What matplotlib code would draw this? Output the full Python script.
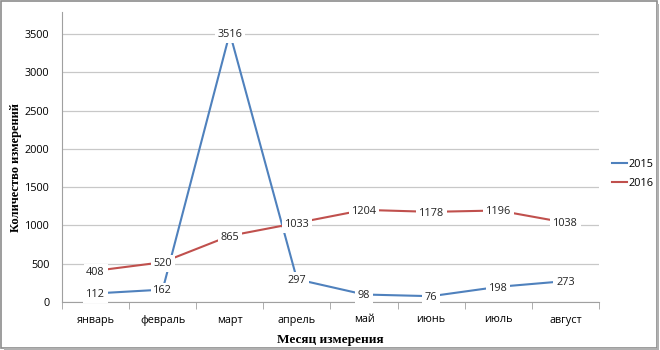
import matplotlib
matplotlib.use("Agg")
import matplotlib.pyplot as plt
import numpy as np
from matplotlib.patches import Rectangle

months = ["январь", "февраль", "март", "апрель", "май", "июнь", "июль", "август"]
y2015 = [112, 162, 3516, 297, 98, 76, 198, 273]
y2016 = [408, 520, 865, 1033, 1204, 1178, 1196, 1038]
yticks = [0, 500, 1000, 1500, 2000, 2500, 3000, 3500]

plt.rcParams['font.family'] = ['Open Sans', 'DejaVu Sans']

fig = plt.figure(figsize=(6.6, 3.5), dpi=100)
ax = fig.add_axes([62/660, 1 - 302/350, (599 - 62)/660, (302 - 12)/350])

x = np.arange(len(months))
c2015 = "#4F81BD"
c2016 = "#C0504D"
ax.plot(x, y2015, color=c2015, lw=1.5, label="2015", zorder=3)
ax.plot(x, y2016, color=c2016, lw=1.5, label="2016", zorder=3)

# data labels sit on the points, white box hides the line under them
for xs, ys in ((x, y2015), (x, y2016)):
    for xi, yi in zip(xs, ys):
        ax.annotate(str(yi), (xi, yi), xytext=(0, -1), textcoords="offset points",
                    ha="center", va="center", fontsize=7.8, color="#222222", zorder=4,
                    bbox=dict(boxstyle="square,pad=0.25", fc="white", ec="none"))

ax.set_xlim(-0.5, len(months) - 0.5)
ax.set_ylim(0, 3790)
ax.set_yticks(yticks)
ax.set_xticks(x)
ax.set_xticklabels(months)
ax.set_xticks(np.arange(-0.5, len(months)), minor=True)
ax.tick_params(axis="x", which="major", length=0, pad=9, labelsize=7.8)
ax.tick_params(axis="x", which="minor", length=5, color="#A0A0A0")
ax.tick_params(axis="y", length=0, pad=9, labelsize=7.8)
ax.grid(axis="y", color="#C8C8C8", lw=0.9)
ax.set_axisbelow(True)
for s in ("top", "right"):
    ax.spines[s].set_visible(False)
for s in ("left", "bottom"):
    ax.spines[s].set_color("#A0A0A0")

ax.set_ylabel("Количество измерений", family="Liberation Serif",
              fontweight="bold", fontsize=9, labelpad=6)
ax.yaxis.set_label_coords(-0.075, 0.465)
ax.set_xlabel("Месяц измерения", family="Liberation Serif",
              fontweight="bold", fontsize=9.5, labelpad=6)

fig.legend(loc="center left", bbox_to_anchor=(602/660, 1 - 174/350),
           frameon=False, fontsize=7.8, handlelength=1.4, handletextpad=0.15,
           labelspacing=0.7)

# chart frame with a light shadow on the right and bottom
fig.patches.append(Rectangle((0.002, 0.006), 0.993, 0.99, transform=fig.transFigure,
                             fill=False, ec="#8C8C8C", lw=1.2))
fig.patches.append(Rectangle((0.995, 0.0), 0.004, 0.99, transform=fig.transFigure,
                             fc="#B0B0B0", ec="none"))
fig.patches.append(Rectangle((0.006, 0.0), 0.993, 0.006, transform=fig.transFigure,
                             fc="#B0B0B0", ec="none"))

fig.savefig("out.png", dpi=100)
